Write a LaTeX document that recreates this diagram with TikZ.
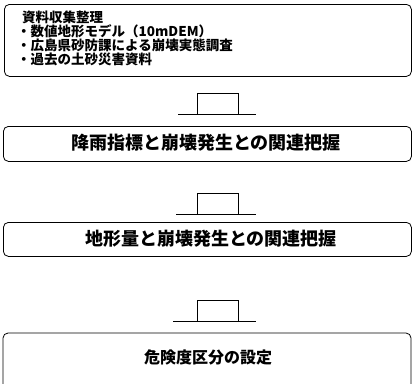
\documentclass[tikz,border=0pt]{standalone}
\usepackage{fontspec}
\newfontfamily\jp{Noto Sans CJK JP}
\begin{document}
\begin{tikzpicture}[x=1pt,y=-1pt,
  box/.style={draw, rounded corners=5pt, line width=0.8pt, inner sep=0pt},
  txt/.style={font=\jp\bfseries\fontsize{18}{20}\selectfont, inner sep=0pt},
  ttl/.style={font=\jp\bfseries\fontsize{13.5}{15}\selectfont, inner sep=0pt},
  blockarrow/.style={draw, line width=1pt}]
\useasboundingbox (0,0) rectangle (414,383);
% box 1
\node[box, minimum width=407pt, minimum height=72pt, anchor=north west] (b1) at (4,4) {};
\node[ttl, anchor=west] (t0) at (22,17) {資料収集整理};
\node[ttl, anchor=west] (t1) at (17,31) {・数値地形モデル（10mDEM）};
\node[ttl, anchor=west] (t2) at (17,45) {・広島県砂防課による崩壊実態調査};
\node[ttl, anchor=west] (t3) at (17,59) {・過去の土砂災害資料};
% arrow 1
\draw[blockarrow] (197,114) -- (197,93) -- (238,93) -- (238,114);
\draw[blockarrow] (178,114) -- (256,114);
% box 2
\node[box, minimum width=408pt, minimum height=35pt, anchor=north west] (b2) at (3,126) {};
\node[txt] (t4) at (206,143) {降雨指標と崩壊発生との関連把握};
% arrow 2
\draw[blockarrow] (197,214) -- (197,193) -- (238,193) -- (238,214);
\draw[blockarrow] (176,214) -- (256,214);
% box 3
\node[box, minimum width=408pt, minimum height=34pt, anchor=north west] (b3) at (3,222) {};
\node[txt] (t5) at (211,239) {地形量と崩壊発生との関連把握};
% arrow 3
\draw[blockarrow] (197,321) -- (197,300) -- (238,300) -- (238,321);
\draw[blockarrow] (173,321) -- (256,321);
% box 4 (open at bottom)
\draw[line width=0.8pt] (3,390) -- (3,338) arc[start angle=180, end angle=90, radius=5pt] -- (406,333) arc[start angle=90, end angle=0, radius=5pt] -- (411,390);
\node[txt, font=\jp\bfseries\fontsize{16}{18}\selectfont] (t6) at (208,357) {危険度区分の設定};
\end{tikzpicture}
\end{document}
